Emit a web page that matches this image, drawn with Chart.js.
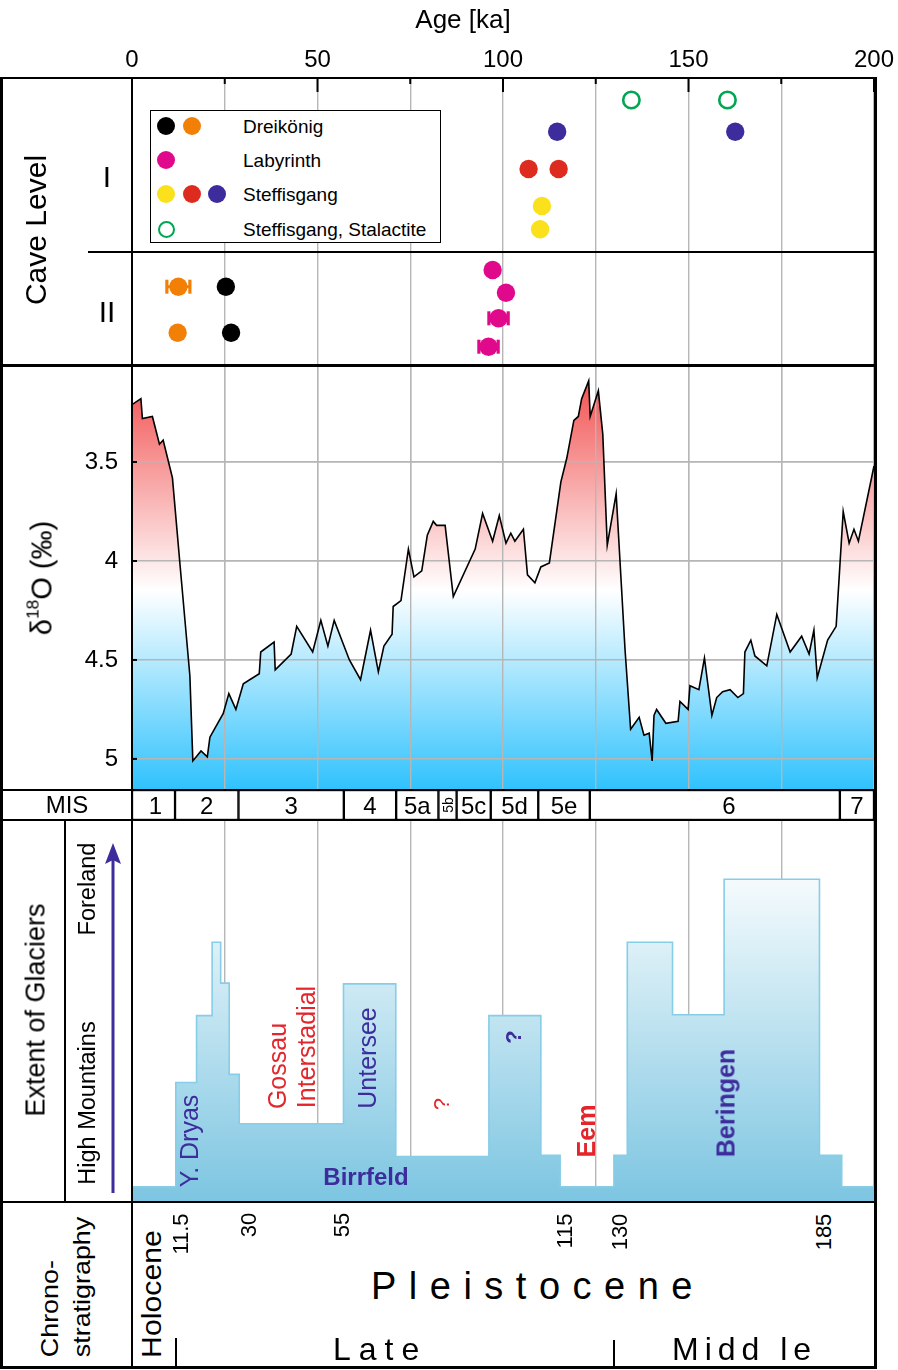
<!DOCTYPE html>
<html><head><meta charset="utf-8"><title>Cave levels, δ18O and glacier extent</title>
<script src="https://cdn.jsdelivr.net/npm/chart.js@4.4.1/dist/chart.umd.min.js"></script>
<style>
html,body{margin:0;padding:0;background:#fff;}
#page{position:relative;width:898px;height:1370px;overflow:hidden;background:#fff;font-family:'Liberation Sans',Arial,Helvetica,sans-serif;color:#000;}
#page canvas{position:absolute;left:0;}
.ln{position:absolute;background:#000;}
.t{position:absolute;white-space:nowrap;line-height:1;}
.mk{position:absolute;border-radius:50%;box-sizing:border-box;}
</style></head><body><div id="page">
<canvas id="cCave" width="898" height="365" style="top:0px"></canvas>
<canvas id="cIso" width="898" height="425" style="top:365px"></canvas>
<canvas id="cMis" width="898" height="30" style="top:790px"></canvas>
<canvas id="cGlac" width="898" height="382" style="top:820px"></canvas>
</div>
<script>
// ---------------- DATA ----------------
const gridAges = [0, 25, 50, 75, 100, 125, 150, 175, 200];
const ageTickLabels = [0, 50, 100, 150, 200];
const isoTicks = [3.5, 4, 4.5, 5];

// Cave level samples: age [ka] and vertical position inside the panel (0 = top, 287 = bottom)
const dreiBlackAge = [25.3, 26.7];
const dreiBlackPos = [208.7, 254.7];
const dreiOrangeAge = [12.5, 12.3];
const dreiOrangePos = [208.7, 254.7];
const dreiOrangeErr = [3.1, 0];
const labyAge = [97.2, 100.8, 98.8, 96.1];
const labyPos = [192, 214.7, 240.3, 268.7];
const labyErr = [0, 0, 2.6, 2.6];
const steffYellowAge = [110.5, 110.0];
const steffYellowPos = [128, 151.3];
const steffRedAge = [106.9, 115.0];
const steffRedPos = [91, 91];
const steffBlueAge = [114.6, 162.6];
const steffBluePos = [53.7, 53.7];
const stalAge = [134.6, 160.5];
const stalPos = [22, 22];

// delta 18O record
const isoAge = [0, 2.4, 2.8, 5.5, 7.4, 8.4, 10.9, 12.9, 15.6, 16.4, 18.6, 20.3, 21.0, 24.6, 26.1, 28.0, 30.0, 34.3, 34.7, 38.3, 38.6, 42.9, 44.4, 48.7, 50.9, 52.8, 54.5, 58.6, 61.6, 64.3, 66.4, 67.9, 70.1, 70.4, 72.5, 74.5, 76.0, 78.1, 79.6, 81.2, 82.1, 84.4, 86.6, 92.5, 94.5, 97.2, 99.0, 100.8, 102.1, 103.2, 105.5, 106.6, 108.6, 110.2, 112.5, 115.6, 117.2, 119.1, 120.3, 121.2, 123.1, 123.5, 125.7, 126.9, 128.1, 130.5, 132.9, 134.4, 136.7, 138.0, 139.4, 140.2, 140.7, 141.4, 143.9, 147.2, 147.7, 149.9, 150.4, 152.8, 154.3, 156.3, 157.6, 159.2, 161.2, 163.3, 164.8, 165.2, 166.8, 167.9, 171.1, 173.8, 177.4, 180.5, 182.5, 183.8, 184.7, 187.5, 189.8, 191.7, 193.3, 194.6, 195.8, 200];
const isoVal = [3.21, 3.18, 3.28, 3.27, 3.41, 3.39, 3.58, 4.01, 4.58, 5.01, 4.96, 4.99, 4.89, 4.77, 4.67, 4.75, 4.62, 4.57, 4.46, 4.41, 4.55, 4.47, 4.33, 4.46, 4.30, 4.43, 4.30, 4.50, 4.60, 4.35, 4.56, 4.43, 4.37, 4.23, 4.20, 3.94, 4.08, 4.05, 3.87, 3.80, 3.82, 3.82, 4.18, 3.94, 3.76, 3.90, 3.77, 3.91, 3.86, 3.90, 3.84, 4.07, 4.11, 4.03, 4.01, 3.60, 3.48, 3.29, 3.27, 3.18, 3.09, 3.27, 3.14, 3.36, 3.92, 3.66, 4.45, 4.85, 4.79, 4.88, 4.87, 5.01, 4.78, 4.75, 4.82, 4.81, 4.71, 4.75, 4.63, 4.65, 4.49, 4.78, 4.69, 4.66, 4.65, 4.69, 4.67, 4.46, 4.40, 4.48, 4.53, 4.27, 4.46, 4.38, 4.47, 4.35, 4.59, 4.40, 4.33, 3.75, 3.91, 3.84, 3.90, 3.52];

// Marine isotope stages
const misLabels = ['1', '2', '3', '4', '5a', '5b', '5c', '5d', '5e', '6', '7'];
const misBounds = [0, 11.6, 28.7, 57.1, 71.2, 82.6, 87.5, 96.7, 109.5, 123.4, 190.8, 200];

// Extent of glaciers (relative, 0 = none .. 100 = far foreland), step starts
const glacAge = [0, 11.8, 17.4, 21.6, 23.9, 26.2, 28.9, 57.0, 71.1, 96.2, 110.2, 115.4, 129.9, 133.5, 145.7, 159.6, 185.3, 191.3, 200];
const glacExtent = [4, 31.3, 48.8, 68, 57.3, 33.4, 20.5, 57.1, 11.9, 48.8, 12.2, 4, 12.2, 68, 49, 84.5, 12.2, 4, 4];

// Chronostratigraphic boundaries [ka]
const chronoAges = [11.5, 30, 55, 115, 130, 185];

// ---------------- STYLE ----------------
const FONT = "'Liberation Sans', Arial, Helvetica, sans-serif";
Chart.defaults.font.family = FONT;
const COL = {black:'#000000', orange:'#f28007', magenta:'#e1098b', yellow:'#fbe01c', red:'#dd2c1f', blue:'#3d2c9b', green:'#00a651'};
const GRID = {color:'#b6b6b6', lineWidth:1.4, drawTicks:false};
const PAD = {left:132, right:24, top:0, bottom:0};
const gridTicks = s => { s.ticks = gridAges.map(v => ({value:v})); };

function pts(a, b) { return a.map((v, i) => ({x:v, y:b[i]})); }

const caveDefs = [
  {label:'Dreikönig', data:pts(dreiBlackAge, dreiBlackPos), color:COL.black},
  {label:'Dreikönig', data:pts(dreiOrangeAge, dreiOrangePos), color:COL.orange, errors:dreiOrangeErr},
  {label:'Labyrinth', data:pts(labyAge, labyPos), color:COL.magenta, errors:labyErr},
  {label:'Steffisgang', data:pts(steffYellowAge, steffYellowPos), color:COL.yellow},
  {label:'Steffisgang', data:pts(steffRedAge, steffRedPos), color:COL.red},
  {label:'Steffisgang', data:pts(steffBlueAge, steffBluePos), color:COL.blue},
  {label:'Steffisgang, Stalactite', data:pts(stalAge, stalPos), color:COL.green, open:true}
];
const caveSets = caveDefs.map(d => ({
  label:d.label, data:d.data, errors:d.errors, open:!!d.open, markColor:d.color,
  pointRadius:d.open ? 8.2 : 9.2,
  pointBackgroundColor:d.open ? '#ffffff' : d.color,
  pointBorderColor:d.color,
  pointBorderWidth:d.open ? 2.6 : 0,
  showLine:false
}));

const errorBars = {
  id:'errorBars',
  beforeDatasetsDraw(chart) {
    const {ctx} = chart; const x = chart.scales.x;
    chart.data.datasets.forEach((ds, i) => {
      if (!ds.errors) return;
      const meta = chart.getDatasetMeta(i);
      meta.data.forEach((el, j) => {
        const e = ds.errors[j]; if (!e) return;
        const age = ds.data[j].x;
        const x1 = x.getPixelForValue(age - e), x2 = x.getPixelForValue(age + e);
        ctx.save(); ctx.fillStyle = ds.markColor;
        ctx.fillRect(x1, el.y - 1.5, x2 - x1, 3);
        ctx.fillRect(x1 - 1.6, el.y - 7, 3.2, 14);
        ctx.fillRect(x2 - 1.6, el.y - 7, 3.2, 14);
        ctx.restore();
      });
    });
  }
};
const innerTicks = {
  id:'innerTicks',
  afterDraw(chart) {
    const {ctx, chartArea} = chart; const x = chart.scales.x;
    ctx.save(); ctx.strokeStyle = '#000'; ctx.lineWidth = 2;
    gridAges.forEach(v => {
      const px = x.getPixelForValue(v);
      const len = ageTickLabels.includes(v) ? 14 : 6;
      ctx.beginPath(); ctx.moveTo(px, chartArea.top); ctx.lineTo(px, chartArea.top + len); ctx.stroke();
    });
    ctx.restore();
  }
};

// ---------------- CHART: cave levels + top age axis ----------------
const cave = new Chart(document.getElementById('cCave'), {
  type:'scatter',
  data:{datasets:caveSets},
  options:{
    responsive:false, animation:false, events:[],
    layout:{padding:PAD, autoPadding:false},
    plugins:{legend:{display:false}, tooltip:{enabled:false}},
    scales:{
      x:{type:'linear', position:'top', min:0, max:200,
         afterBuildTicks:gridTicks,
         ticks:{autoSkip:false, maxRotation:0, padding:3, color:'#000', font:{size:24},
                callback:v => ageTickLabels.includes(v) ? String(v) : ''},
         grid:GRID, border:{display:false},
         afterFit:s => { s.height = 78; s.paddingLeft = 0; s.paddingRight = 0; }},
      y:{min:0, max:287, reverse:true, display:false}
    }
  },
  plugins:[errorBars, innerTicks]
});

// ---------------- CHART: delta 18O ----------------
const isoPts = pts(isoAge, isoVal);
function isoGradient(context) {
  const {ctx, chartArea} = context.chart;
  if (!chartArea) return 'rgba(0,0,0,0)';
  const g = ctx.createLinearGradient(0, chartArea.top, 0, chartArea.bottom);
  g.addColorStop(0, '#f14646');
  g.addColorStop(0.53, '#ffffff');
  g.addColorStop(1, '#2fc2fd');
  return g;
}
const gridOverFill = {
  id:'gridOverFill',
  afterDatasetDraw(chart, args) {
    if (args.index !== 1) return;
    Object.values(chart.scales).forEach(s => { if (typeof s.drawGrid === 'function') s.drawGrid(chart.chartArea); });
  },
  afterDraw(chart) {
    const {ctx, chartArea} = chart; const y = chart.scales.y;
    ctx.save(); ctx.strokeStyle = '#000'; ctx.lineWidth = 2;
    isoTicks.forEach(v => { const py = y.getPixelForValue(v); ctx.beginPath(); ctx.moveTo(chartArea.left, py); ctx.lineTo(chartArea.left + 5, py); ctx.stroke(); });
    ctx.restore();
  }
};
const iso = new Chart(document.getElementById('cIso'), {
  type:'line',
  data:{datasets:[
    {label:'δ18O', data:isoPts, borderColor:'#000', borderWidth:1.6, pointRadius:0, fill:false, tension:0, order:0},
    {label:'δ18O fill', data:isoPts, borderColor:'rgba(0,0,0,0)', borderWidth:0, pointRadius:0, fill:'start', tension:0, backgroundColor:isoGradient, order:1}
  ]},
  options:{
    responsive:false, animation:false, events:[],
    layout:{padding:{left:0, right:24, top:0, bottom:0}, autoPadding:false},
    plugins:{legend:{display:false}, tooltip:{enabled:false}},
    scales:{
      x:{type:'linear', min:0, max:200, afterBuildTicks:gridTicks, ticks:{display:false}, grid:GRID, border:{display:false},
         afterFit:s => { s.height = 0; s.paddingLeft = 0; s.paddingRight = 0; }},
      y:{min:3.01, max:5.157, reverse:true,
         afterBuildTicks:s => { s.ticks = isoTicks.map(v => ({value:v})); },
         ticks:{padding:14, color:'#000', font:{size:24}, callback:v => String(v)},
         grid:GRID, border:{display:false},
         afterFit:s => { s.width = 132; s.paddingTop = 0; s.paddingBottom = 0; }}
    }
  },
  plugins:[gridOverFill]
});

// ---------------- CHART: MIS ----------------
const mis = new Chart(document.getElementById('cMis'), {
  type:'bar',
  data:{labels:['MIS'], datasets:misLabels.map((l, i) => ({
    label:'MIS ' + l, data:[[misBounds[i], misBounds[i + 1]]],
    backgroundColor:'#ffffff', borderColor:'#000', borderWidth:1.5, borderSkipped:false,
    grouped:false, barPercentage:1, categoryPercentage:1
  }))},
  options:{
    indexAxis:'y', responsive:false, animation:false, events:[],
    layout:{padding:PAD, autoPadding:false},
    plugins:{legend:{display:false}, tooltip:{enabled:false}},
    scales:{x:{type:'linear', min:0, max:200, display:false}, y:{display:false}}
  }
});

// ---------------- CHART: extent of glaciers ----------------
function glacGradient(context) {
  const {ctx, chartArea} = context.chart;
  if (!chartArea) return 'rgba(0,0,0,0)';
  const g = ctx.createLinearGradient(0, chartArea.top, 0, chartArea.bottom);
  g.addColorStop(0, '#ffffff');
  g.addColorStop(0.12, '#fafdfe');
  g.addColorStop(1, '#7cc5e1');
  return g;
}
const glac = new Chart(document.getElementById('cGlac'), {
  type:'line',
  data:{datasets:[{label:'Extent of glaciers', data:pts(glacAge, glacExtent), stepped:true, fill:'origin',
    borderColor:'#86cde7', borderWidth:1.6, pointRadius:0, backgroundColor:glacGradient}]},
  options:{
    responsive:false, animation:false, events:[],
    layout:{padding:PAD, autoPadding:false},
    plugins:{legend:{display:false}, tooltip:{enabled:false}},
    scales:{
      x:{type:'linear', min:0, max:200, z:1, afterBuildTicks:gridTicks, ticks:{display:false}, grid:GRID, border:{display:false},
         afterFit:s => { s.height = 0; s.paddingLeft = 0; s.paddingRight = 0; }},
      y:{min:0, max:100, display:false}
    }
  }
});

// ---------------- OVERLAY (frame + text) ----------------
const page = document.getElementById('page');
const X = v => cave.scales.x.getPixelForValue(v);
function ln(x, y, w, h, c) { const d = document.createElement('div'); d.className = 'ln'; Object.assign(d.style, {left:x + 'px', top:y + 'px', width:w + 'px', height:h + 'px'}); if (c) d.style.background = c; page.appendChild(d); return d; }
function txt(html, x, y, o = {}) {
  const d = document.createElement('div'); d.className = 't'; d.innerHTML = html;
  const s = d.style; s.left = x + 'px'; s.top = y + 'px'; s.fontSize = (o.size || 20) + 'px';
  if (o.weight) s.fontWeight = o.weight; if (o.color) s.color = o.color;
  if (o.ls) s.letterSpacing = o.ls + 'px'; if (o.align) s.textAlign = o.align; if (o.lh) s.lineHeight = o.lh + 'px';
  let tr = o.anchor === 'l' ? 'translate(0,-50%)' : 'translate(-50%,-50%)';
  if (o.rot) tr += ' rotate(-90deg)'; if (o.sx) tr += ' scaleX(' + o.sx + ')';
  s.transform = tr; page.appendChild(d); return d;
}

// frame
ln(0, 77, 877, 2); ln(0, 77, 3, 1292); ln(874, 77, 3, 1292);
ln(0, 363.5, 877, 3); ln(0, 789, 877, 2); ln(0, 819, 877, 2); ln(0, 1201, 877, 2); ln(0, 1366, 877, 3);
ln(131, 77, 1.6, 1290); ln(88, 251.3, 787, 1.5); ln(64.3, 820, 1.5, 382);

// headings / axis titles
txt('Age [ka]', 463, 19, {size:26});
txt('Cave Level', 36, 230, {size:30, rot:1});
txt('I', 107, 177, {size:30}); txt('II', 107, 312, {size:30});
txt('δ<span style="font-size:60%;position:relative;top:-0.75em">18</span>O (‰)', 42, 578, {size:29, rot:1});
txt('MIS', 67, 805, {size:24});
txt('Extent of Glaciers', 36, 1010, {size:27, rot:1});
txt('High Mountains', 88, 1103, {size:23.5, rot:1});
txt('Foreland', 88, 889, {size:23.5, rot:1});

// legend (built from the cave datasets)
const lg = document.createElement('div');
Object.assign(lg.style, {position:'absolute', left:'150px', top:'110px', width:'291px', height:'133px', border:'1.5px solid #000', background:'#fff', boxSizing:'border-box'});
page.appendChild(lg);
const legendRows = [];
caveSets.forEach(ds => { let r = legendRows.find(r => r.label === ds.label); if (!r) { r = {label:ds.label, sets:[]}; legendRows.push(r); } r.sets.push(ds); });
const lgRowY = [126, 160, 194, 229], lgMarkX = [166, 192, 217];
legendRows.forEach((r, i) => {
  r.sets.forEach((ds, j) => {
    const m = document.createElement('div'); m.className = 'mk';
    const sz = ds.open ? 17 : 18.4;
    Object.assign(m.style, {left:(lgMarkX[j] - sz / 2) + 'px', top:(lgRowY[i] - sz / 2) + 'px', width:sz + 'px', height:sz + 'px',
      background:ds.open ? '#fff' : ds.markColor, border:ds.open ? ('2.6px solid ' + ds.markColor) : 'none'});
    page.appendChild(m);
  });
  txt(r.label, 243, lgRowY[i], {size:19, anchor:'l'});
});

// MIS labels
misLabels.forEach((l, i) => {
  let cx = X((misBounds[i] + misBounds[i + 1]) / 2);
  if (l === '6') cx += 14;
  if (l === '1') cx += 2;
  if (l === '5b') txt(l, cx, 805, {size:14, rot:1});
  else txt(l, cx, 806, {size:24});
});

// glacier annotations
txt('Y. Dryas', 189, 1141, {size:25, rot:1, color:COL.blue});
txt('Gossau', 277, 1066, {size:25, rot:1, color:'#e3262b'});
txt('Interstadial', 306, 1047, {size:25, rot:1, color:'#e3262b'});
txt('Untersee', 367, 1058, {size:25, rot:1, color:COL.blue});
txt('?', 442, 1104, {size:22, rot:1, color:'#e3262b'});
txt('Birrfeld', 366, 1177, {size:24, weight:'bold', color:COL.blue});
txt('?', 514, 1037, {size:22, rot:1, weight:'bold', color:COL.blue});
txt('Eem', 586, 1131, {size:25, rot:1, weight:'bold', color:'#e3262b'});
txt('Beringen', 726, 1103, {size:25, rot:1, weight:'bold', color:COL.blue});

// arrow
const svgNS = 'http://www.w3.org/2000/svg';
const svg = document.createElementNS(svgNS, 'svg');
svg.setAttribute('width', '30'); svg.setAttribute('height', '360');
Object.assign(svg.style, {position:'absolute', left:'98px', top:'838px'});
svg.innerHTML = '<line x1="15" y1="20" x2="15" y2="355" stroke="#3d2c9b" stroke-width="3"/><polygon points="15,5 23,26 15,22 7,26" fill="#3d2c9b"/>';
page.appendChild(svg);

// chronostratigraphy
txt('Chrono-<br>stratigraphy', 66, 1287, {size:24, rot:1, align:'left', lh:32, sx:1.12});
txt('Holocene', 152, 1294, {size:27, rot:1, sx:1.12});
chronoAges.forEach(v => {
  const d = txt(String(v), X(v) + 6, 1230, {size:22, rot:1});
  d.style.top = (1213 + d.offsetWidth / 2) + 'px';
});
txt('Pleistocene', 371, 1286, {size:38, ls:12.5, anchor:'l'});
txt('Late', 333, 1349, {size:32, ls:8, anchor:'l'});
txt('Midd le', 672, 1349, {size:32, ls:6, anchor:'l'});
ln(175, 1338, 2, 29); ln(613, 1340, 2, 27);
</script></body></html>
